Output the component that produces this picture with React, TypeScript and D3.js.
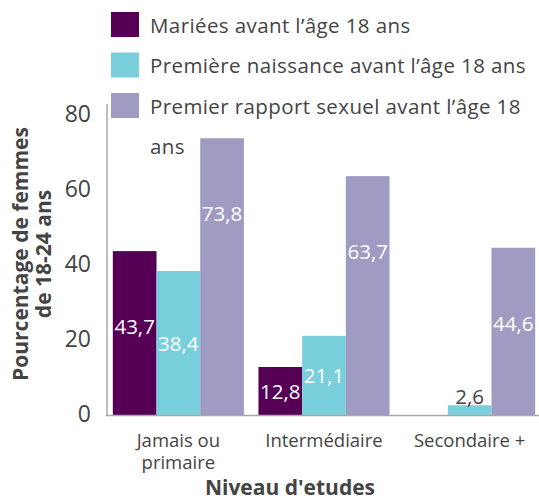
import React from "react";
import * as d3 from "d3";

const categories = ["Jamais ou primaire", "Intermédiaire", "Secondaire +"];
const seriesNames = [
  "Mariées avant l’âge 18 ans",
  "Première naissance avant l’âge 18 ans",
  "Premier rapport sexuel avant l’âge 18 ans",
];
const married: (number | null)[] = [43.7, 12.8, null];
const firstBirth: (number | null)[] = [38.4, 21.1, 2.6];
const firstSex: (number | null)[] = [73.8, 63.7, 44.6];
const yTicks = [0, 20, 40, 60, 80];
const yTitle = ["Pourcentage de femmes", "de 18-24 ans"];
const xTitle = "Niveau d'etudes";
const colors = ["#550055", "#79cfdc", "#9f9bc3"];

const W = 539;
const H = 501;
const FONT = "'Open Sans', sans-serif";
const TEXT = "#444444";
const LEGEND_LS = 0.4;

function measure(text: string, font: string, ls = 0): number {
  const ctx = document.createElement("canvas").getContext("2d")!;
  ctx.font = font;
  return ctx.measureText(text).width + ls * text.length;
}

function wrap(text: string, font: string, maxW: number, ls = 0): string[] {
  const words = text.split(" ");
  const lines: string[] = [];
  let cur = "";
  for (const w of words) {
    const t = cur ? cur + " " + w : w;
    if (cur && measure(t, font, ls) > maxW) {
      lines.push(cur);
      cur = w;
    } else cur = t;
  }
  if (cur) lines.push(cur);
  return lines;
}

const fmt = (v: number) => d3.format(".1f")(v).replace(".", ",");

export default function App() {
  const series = [married, firstBirth, firstSex];
  const y = d3.scaleLinear().domain([0, 80]).range([415, 115]);
  const x0 = d3
    .scaleBand<string>()
    .domain(categories)
    .range([107, 541])
    .paddingInner(0.1)
    .paddingOuter(0.04);
  const x1 = d3
    .scaleBand<number>()
    .domain(d3.range(series.length))
    .range([0, x0.bandwidth()]);
  const base = y(0);

  const legendFont = `20.5px ${FONT}`;
  const catFont = `19px ${FONT}`;

  return (
    <svg
      width={W}
      height={H}
      style={{ position: "absolute", left: 0, top: 0, background: "#fff" }}
      fontFamily={FONT}
    >
      {/* bars */}
      {categories.map((c, i) => (
        <g key={c} transform={`translate(${x0(c)},0)`}>
          {series.map((s, k) => {
            const v = s[i];
            if (v == null) return null;
            const top = y(v);
            const h = base - top;
            const cx = x1(k)! + x1.bandwidth() / 2;
            const inside = h >= 30;
            const ly = inside ? top + Math.min(75, h / 2) : top - 9;
            return (
              <g key={k}>
                <rect x={x1(k)} y={top} width={x1.bandwidth()} height={h} fill={colors[k]} />
                <text
                  x={cx}
                  y={ly}
                  textAnchor="middle"
                  dominantBaseline="central"
                  fontSize={20.5}
                  fill={inside ? "#ffffff" : TEXT}
                >
                  {fmt(v)}
                </text>
              </g>
            );
          })}
        </g>
      ))}

      {/* axes */}
      <line x1={107} x2={107} y1={104} y2={416} stroke="#a8a8a8" strokeWidth={1.5} />
      <line x1={106} x2={W} y1={415.5} y2={415.5} stroke="#a8a8a8" strokeWidth={1.5} />
      {yTicks.map((t) => (
        <text
          key={t}
          x={91}
          y={y(t) - 2}
          textAnchor="end"
          dominantBaseline="central"
          fontSize={23}
          fill={TEXT}
        >
          {t}
        </text>
      ))}

      {/* category labels */}
      {categories.map((c) => {
        const lines = wrap(c, catFont, x0.bandwidth());
        const cx = x0(c)! + x0.bandwidth() / 2;
        return (
          <text key={c} textAnchor="middle" fontSize={18.5} fill={TEXT}>
            {lines.map((l, j) => (
              <tspan key={j} x={cx} y={439 + j * 22} dominantBaseline="central">
                {l}
              </tspan>
            ))}
          </text>
        );
      })}

      {/* axis titles */}
      <text
        x={290}
        y={487}
        textAnchor="middle"
        dominantBaseline="central"
        fontSize={21}
        fontWeight="bold"
        fill={TEXT}
      >
        {xTitle}
      </text>
      <g transform="translate(31,254) rotate(-90)">
        {yTitle.map((l, j) => (
          <text
            key={j}
            x={0}
            y={-11 + j * 23}
            textAnchor="middle"
            dominantBaseline="central"
            fontSize={21}
            fontWeight="bold"
            fill={TEXT}
          >
            {l}
          </text>
        ))}
      </g>

      {/* legend */}
      {(() => {
        let row = 0;
        const step = 40.5;
        return seriesNames.map((name, k) => {
          const lines = wrap(name, legendFont, W - 150 - 2, LEGEND_LS);
          const y0 = 12 + row * step;
          row += lines.length;
          return (
            <g key={name}>
              <rect x={111} y={y0} width={28} height={25} fill={colors[k]} />
              {lines.map((l, j) => (
                <text
                  key={j}
                  x={150}
                  y={y0 + 12.5 + j * step}
                  dominantBaseline="central"
                  fontSize={20.5}
                  letterSpacing={LEGEND_LS}
                  fill={TEXT}
                >
                  {l}
                </text>
              ))}
            </g>
          );
        });
      })()}
    </svg>
  );
}
